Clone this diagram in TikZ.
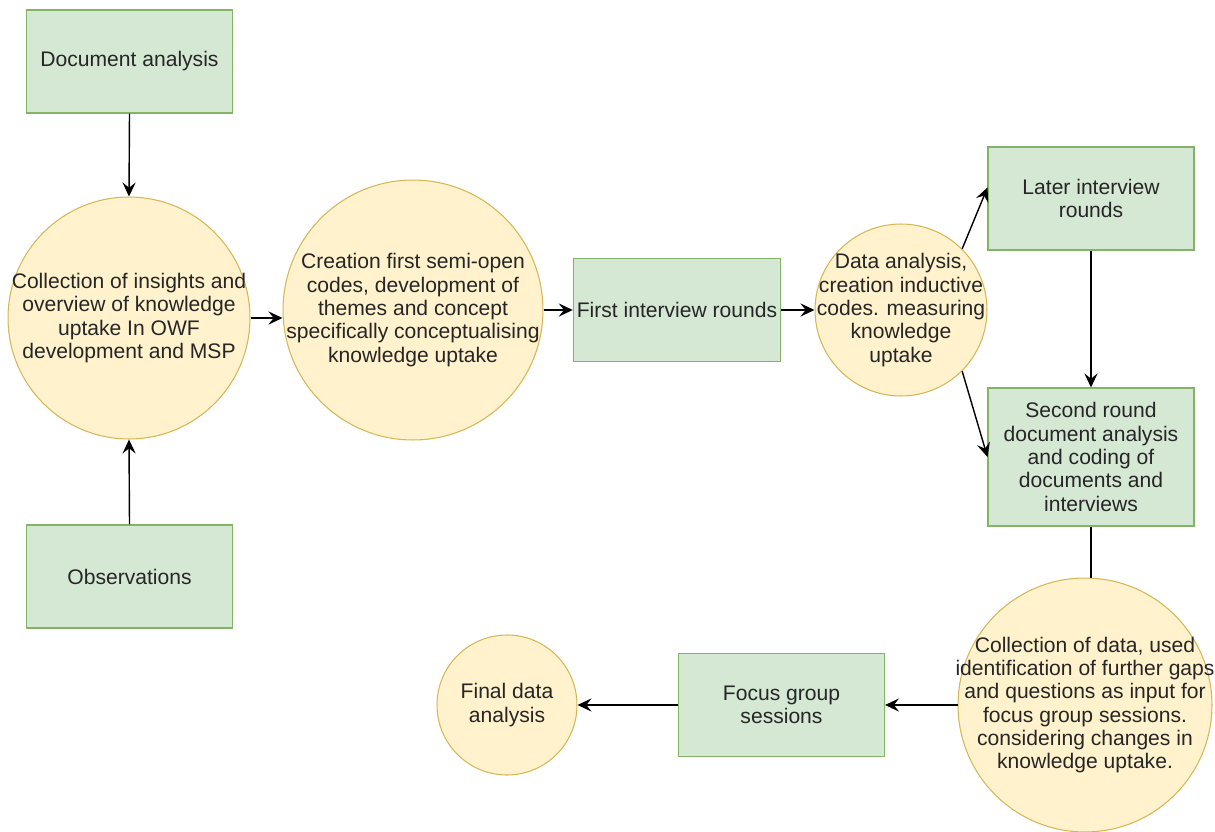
\documentclass[tikz,border=0pt]{standalone}
\usepackage{fontspec}
\setmainfont{Liberation Sans}
\usepackage{xcolor}
\usepackage{tikz}
\usetikzlibrary{arrows.meta,calc}

\definecolor{boxfill}{HTML}{D5E8D4}
\definecolor{boxline}{HTML}{82B366}
\definecolor{circfill}{HTML}{FFF2CC}
\definecolor{circline}{HTML}{D6B656}

\begin{document}
\begin{tikzpicture}[
      x=0.02cm, y=-0.02cm,
      every node/.style={font=\fontsize{12}{13.3}\selectfont, text=black!85},
      gbox/.style={draw=boxline, fill=boxfill, line width=0.6pt,
                   minimum width=4.12cm, minimum height=2.06cm,
                   inner sep=2pt, align=center},
      ycirc/.style={circle, draw=circline, fill=circfill, line width=0.6pt,
                    inner sep=-15pt, align=center},
      flow/.style={line width=0.8pt, -{Stealth[length=8pt,width=7.5pt,inset=3pt]}},
    ]
    \useasboundingbox (0,0) rectangle (1215,832);

    % --- left column ---
    \node[gbox] (docan) at (129.5,61.5) {Document analysis};
    \node[gbox] (obs) at (129.5,576.5) {Observations};
    \node[ycirc, minimum size=4.84cm] (insight) at (129,318)
      {Collection of insights and\\overview of knowledge\\uptake In OWF\\development and MSP};

    % --- first rounds ---
    \node[ycirc, minimum size=5.2cm] (coding) at (413,310)
      {Creation first semi-open\\codes, development of\\themes and concept\\specifically conceptualising\\knowledge uptake};
    \node[gbox] (first) at (677,310) {First interview rounds};
    \node[ycirc, minimum size=3.44cm] (dataan) at (901,310)
      {Data analysis,\\creation inductive\\codes. measuring\\knowledge\\uptake};

    % --- right column ---
    \node[gbox] (later) at (1091,198.5) {Later interview\\rounds};
    \node[gbox, minimum height=2.76cm] (second) at (1091,457)
      {Second round\\document analysis\\and coding of\\documents and\\interviews};
    \node[ycirc, minimum size=5.08cm] (collect) at (1085,705)
      {Collection of data, used\\identification of further gaps\\and questions as input for\\focus group sessions.\\considering changes in\\knowledge uptake.};

    % --- bottom row ---
    \node[gbox] (focus) at (781.5,705) {Focus group\\sessions};
    \node[ycirc, minimum size=2.8cm] (final) at (507,705) {Final data\\analysis};

    % --- connectors ---
    \draw[flow] (docan.south) -- (insight.north);
    \draw[flow] (obs.north) -- (insight.south);
    \draw[flow] (insight.east) -- (insight.east -| coding.west);
    \draw[flow] (coding.east) -- (first.west);
    \draw[flow] (first.east) -- (dataan.west);
    \draw[flow] (dataan.45) -- ([yshift=2.2mm]later.west);
    \draw[flow] (dataan.-45) -- (second.west);
    \draw[flow] (later.south) -- (second.north);
    \draw[line width=0.8pt] (second.south) -- (second.south |- collect.north);
    \draw[flow] (collect.west) -- (focus.east);
    \draw[flow] (focus.west) -- (final.east);
  \end{tikzpicture}
\end{document}
